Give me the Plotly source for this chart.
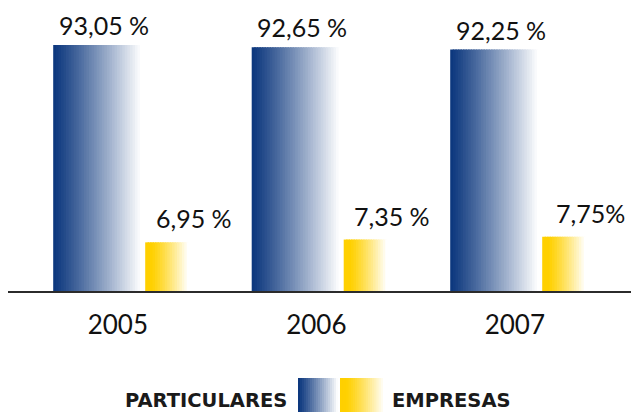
import plotly.graph_objects as go

# ---- data ----
years = ["2005", "2006", "2007"]
particulares = [93.05, 92.65, 92.25]
empresas = [6.95, 7.35, 7.75]
particulares_labels = ["93,05 %", "92,65 %", "92,25 %"]
empresas_labels = ["6,95 %", "7,35 %", "7,75%"]
legend_names = ["PARTICULARES", "EMPRESAS"]

# ---- styling ----
W, H = 631, 412
ML, MR, MT, MB = 8, 0, 0, 121
PW = W - ML - MR
PH = H - MT - MB
unit_px = 198.5
x0 = -(117.8 - ML) / unit_px
xr = [x0, x0 + PW / unit_px]

blue_start = (13, 56, 126)
yellow_start = (255, 208, 0)
white = (255, 255, 255)


def mix(c1, c2, t):
    return "rgb(%d,%d,%d)" % tuple(round(a + (b - a) * t) for a, b in zip(c1, c2))


blue_off = -64.6 / unit_px
blue_w = 92 / unit_px
yel_off = blue_off + blue_w
yel_w = 44 / unit_px

N_BLUE, N_YEL = 36, 18
fig = go.Figure()
for i in range(N_BLUE):
    t = i / (N_BLUE - 1)
    fig.add_trace(go.Bar(
        x=years, y=particulares, yaxis="y",
        offset=blue_off + i * blue_w / N_BLUE, width=blue_w / N_BLUE * 1.6,
        marker=dict(color=mix(blue_start, white, min(1, t ** 1.1 * 1.04)), line=dict(width=0)),
        showlegend=False, hoverinfo="skip"))
for i in range(N_YEL):
    t = i / (N_YEL - 1)
    tt = max(0.0, (t - 0.12) / 0.88)
    fig.add_trace(go.Bar(
        x=years, y=empresas, yaxis="y2",
        offset=yel_off + i * yel_w / N_YEL, width=yel_w / N_YEL * 1.6,
        marker=dict(color=mix(yellow_start, white, min(1, tt ** 1.2)), line=dict(width=0)),
        showlegend=False, hoverinfo="skip"))

ann = []
lab_font = dict(family="Lato", size=25, color="#111111")
for i, (v, s) in enumerate(zip(particulares, particulares_labels)):
    ann.append(dict(x=i, y=v, xref="x", yref="y", text=s, showarrow=False,
                    yanchor="bottom", xanchor="center", xshift=-14, yshift=3, font=lab_font))
for i, (v, s) in enumerate(zip(empresas, empresas_labels)):
    ann.append(dict(x=i, y=v, xref="x", yref="y2", text=s, showarrow=False,
                    yanchor="bottom", xanchor="center", xshift=76, yshift=7, font=lab_font))


def px_x(p):
    return (p - ML) / PW


def px_y(p):
    return (MT + PH - p) / PH


leg_font = dict(family="DejaVu Sans", size=19.5, color="#1a1a1a")
ann.append(dict(x=px_x(289), y=px_y(400), xref="paper", yref="paper", text="<b>%s</b>" % legend_names[0],
                showarrow=False, xanchor="right", yanchor="middle", font=leg_font))
ann.append(dict(x=px_x(390), y=px_y(400), xref="paper", yref="paper", text="<b>%s</b>" % legend_names[1],
                showarrow=False, xanchor="left", yanchor="middle", font=leg_font))

shapes = []
# legend swatches (gradient via narrow rects)
sw_b = (298, 340)
sw_y = (340, 385)
n = 21
for i in range(n):
    t = i / (n - 1)
    a = sw_b[0] + (sw_b[1] - sw_b[0]) * i / n
    b = sw_b[0] + (sw_b[1] - sw_b[0]) * (i + 1.5) / n
    shapes.append(dict(type="rect", xref="paper", yref="paper", x0=px_x(a), x1=px_x(min(b, sw_b[1])),
                       y0=px_y(412), y1=px_y(378), fillcolor=mix(blue_start, white, min(1, t ** 1.1 * 1.04)),
                       line=dict(width=0), layer="above"))
for i in range(n):
    t = i / (n - 1)
    tt = max(0.0, (t - 0.12) / 0.88)
    a = sw_y[0] + (sw_y[1] - sw_y[0]) * i / n
    b = sw_y[0] + (sw_y[1] - sw_y[0]) * (i + 1.5) / n
    shapes.append(dict(type="rect", xref="paper", yref="paper", x0=px_x(a), x1=px_x(min(b, sw_y[1])),
                       y0=px_y(412), y1=px_y(378), fillcolor=mix(yellow_start, white, min(1, tt ** 1.2)),
                       line=dict(width=0), layer="above"))

fig.update_layout(
    width=W, height=H,
    margin=dict(l=ML, r=MR, t=MT, b=MB),
    paper_bgcolor="white", plot_bgcolor="white",
    barmode="overlay",
    showlegend=False,
    xaxis=dict(type="category", range=xr, showline=True, linecolor="#2b2b2b", linewidth=1.5,
               showgrid=False, zeroline=False, ticks="", ticklabelstandoff=10,
               tickfont=dict(family="Lato", size=26, color="#111111")),
    yaxis=dict(range=[50, 50 + PH / 5.714], visible=False, showgrid=False),
    yaxis2=dict(range=[0, PH / 7.0], overlaying="y", visible=False, showgrid=False),
    annotations=ann,
    shapes=shapes,
)

fig.write_html(
    "out.html",
    config={"displayModeBar": False},
    post_script="document.body.style.margin='0';document.body.style.overflow='hidden';",
)
